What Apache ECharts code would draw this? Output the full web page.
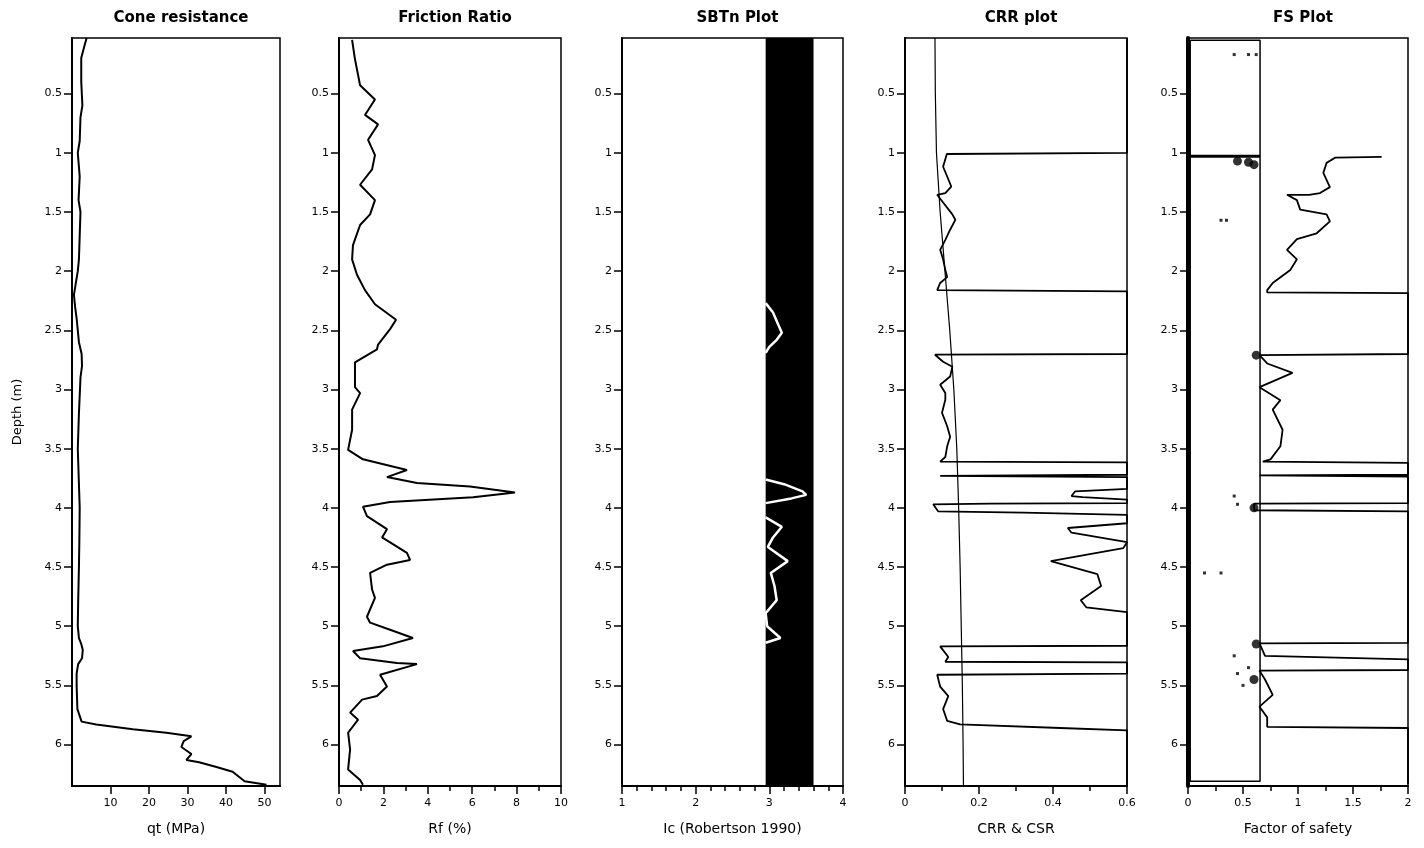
<!DOCTYPE html>
<html><head><meta charset="utf-8">
<script src="https://cdn.jsdelivr.net/npm/echarts@6/dist/echarts.min.js"></script>
<style>html,body{margin:0;padding:0;background:#fff}#c{width:1424px;height:848px}</style>
</head><body><div id="c"></div>
<script>
// ---------- DATA ----------
const panelTitles = ['Cone resistance','Friction Ratio','SBTn Plot','CRR plot','FS Plot'];
const xAxisNames = ['qt (MPa)','Rf (%)','Ic (Robertson 1990)','CRR & CSR','Factor of safety'];
const depthTicks = [0.5,1,1.5,2,2.5,3,3.5,4,4.5,5,5.5,6];
const depthRange = [0.03, 6.35];
const xRanges = [[0,54,10],[0,10,2],[1,4,1],[0,0.6,0.2],[0,2,0.5]];

// [depth, qt]
const qtProfile = [[0.03,3.8],[0.1,3.2],[0.2,2.4],[0.4,2.4],[0.6,2.7],[0.7,2.2],[0.9,2.0],[1.0,1.5],[1.2,2.0],[1.4,1.7],[1.5,2.2],[1.7,2.0],[1.9,1.8],[2.0,1.5],[2.1,1.0],[2.2,0.5],[2.3,0.8],[2.4,1.2],[2.6,1.8],[2.7,2.5],[2.8,2.6],[2.9,2.2],[3.2,1.8],[3.5,1.5],[3.8,1.8],[4.0,2.0],[4.3,1.9],[4.5,1.8],[4.8,1.6],[5.0,1.5],[5.1,1.8],[5.15,2.4],[5.2,2.8],[5.27,2.6],[5.32,1.6],[5.4,1.2],[5.5,1.2],[5.7,1.4],[5.806,2.5],[5.83,6.3],[5.87,15.8],[5.90,24.5],[5.93,31],[5.97,29],[6.02,28.4],[6.08,31],[6.13,29.7],[6.15,33],[6.19,37.5],[6.23,41.7],[6.31,44.8],[6.34,50.5]];

// [depth, Rf]
const rfProfile = [[0.045,0.59],[0.21,0.72],[0.43,0.95],[0.55,1.62],[0.68,1.17],[0.76,1.76],[0.89,1.31],[1.02,1.62],[1.14,1.49],[1.27,0.95],[1.40,1.62],[1.52,1.4],[1.61,0.95],[1.78,0.63],[1.90,0.59],[2.03,0.81],[2.16,1.17],[2.28,1.62],[2.41,2.57],[2.49,2.3],[2.62,1.76],[2.66,1.71],[2.77,0.72],[2.98,0.72],[3.03,0.95],[3.17,0.59],[3.34,0.59],[3.51,0.41],[3.59,1.08],[3.68,3.06],[3.74,2.16],[3.79,3.51],[3.82,5.9],[3.87,7.93],[3.91,6.04],[3.95,2.3],[3.99,1.08],[4.07,1.26],[4.18,2.16],[4.25,1.94],[4.38,3.06],[4.44,3.2],[4.48,2.16],[4.55,1.4],[4.69,1.49],[4.76,1.62],[4.92,1.26],[4.97,1.4],[5.03,2.3],[5.10,3.33],[5.17,1.98],[5.21,0.63],[5.27,0.95],[5.31,2.61],[5.32,3.51],[5.41,1.85],[5.51,2.16],[5.59,1.71],[5.62,1.04],[5.73,0.5],[5.79,0.86],[5.90,0.41],[6.04,0.5],[6.21,0.41],[6.30,0.95],[6.34,1.08]];

// Ic clay band (Robertson zone) and Ic profile segments [depth, Ic]
const icClayBand = [2.95, 3.6];
const icSegments = [
  [[2.27,2.95],[2.35,3.05],[2.45,3.12],[2.52,3.17],[2.58,3.1],[2.64,3.0],[2.69,2.95]],
  [[3.76,2.95],[3.80,3.2],[3.86,3.45],[3.89,3.5],[3.92,3.3],[3.96,2.95]],
  [[4.08,2.95],[4.16,3.17],[4.25,3.05],[4.33,2.98],[4.45,3.25],[4.55,3.02],[4.66,3.07],[4.78,3.1],[4.89,2.95],[5.0,2.97],[5.1,3.15],[5.14,2.95]]
];

// [depth, CRR] (values beyond 0.6 drawn at 0.6)
const crrProfile = [[0.03,0.6],[1.0,0.6],[1.01,0.113],[1.118,0.103],[1.20,0.114],[1.285,0.125],[1.34,0.109],[1.355,0.087],[1.42,0.103],[1.52,0.128],[1.566,0.136],[1.65,0.122],[1.735,0.109],[1.82,0.095],[1.90,0.103],[1.99,0.109],[2.05,0.114],[2.10,0.095],[2.16,0.087],[2.17,0.6],[2.70,0.6],[2.706,0.081],[2.765,0.103],[2.807,0.128],[2.89,0.122],[2.96,0.095],[3.03,0.109],[3.086,0.109],[3.196,0.100],[3.31,0.114],[3.40,0.122],[3.48,0.114],[3.57,0.109],[3.61,0.095],[3.615,0.6],[3.72,0.6],[3.73,0.095],[3.74,0.6],[3.84,0.6],[3.86,0.46],[3.90,0.45],[3.91,0.48],[3.93,0.6],[3.96,0.6],[3.965,0.23],[3.97,0.076],[4.03,0.09],[4.04,0.32],[4.06,0.6],[4.13,0.6],[4.17,0.44],[4.21,0.45],[4.29,0.6],[4.34,0.59],[4.45,0.394],[4.56,0.52],[4.66,0.53],[4.78,0.475],[4.84,0.49],[4.88,0.6],[5.165,0.6],[5.17,0.095],[5.26,0.117],[5.30,0.109],[5.305,0.6],[5.40,0.6],[5.41,0.087],[5.51,0.095],[5.59,0.117],[5.70,0.103],[5.80,0.114],[5.83,0.149],[5.86,0.42],[5.88,0.6],[6.35,0.6]];

// [depth, CSR]
const csrProfile = [[0.03,0.081],[0.5,0.082],[1.0,0.085],[1.5,0.095],[2.0,0.108],[2.5,0.121],[3.0,0.132],[3.5,0.14],[4.0,0.145],[4.5,0.149],[5.0,0.152],[5.5,0.155],[6.0,0.157],[6.35,0.158]];

// [depth, FS] (values beyond 2 drawn at 2)
const fsProfile = [[1.035,1.76],[1.04,1.34],[1.085,1.26],[1.17,1.23],[1.29,1.29],[1.34,1.2],[1.355,1.1],[1.355,0.9],[1.40,0.99],[1.48,1.02],[1.52,1.26],[1.58,1.29],[1.68,1.17],[1.73,0.99],[1.82,0.9],[1.90,0.99],[1.99,0.93],[2.10,0.77],[2.16,0.72],[2.18,0.72],[2.185,2.0],[2.70,2.0],[2.71,0.65],[2.78,0.72],[2.86,0.95],[2.94,0.75],[2.98,0.65],[3.09,0.84],[3.17,0.77],[3.34,0.86],[3.48,0.84],[3.59,0.75],[3.61,0.68],[3.62,2.0],[3.72,2.0],[3.725,0.65],[3.735,2.0],[3.96,2.0],[3.965,0.6],[4.02,0.6],[4.03,2.0],[5.14,2.0],[5.145,0.65],[5.25,0.7],[5.28,2.0],[5.37,2.0],[5.375,0.65],[5.45,0.7],[5.58,0.77],[5.68,0.65],[5.77,0.72],[5.85,0.72],[5.86,2.0],[6.33,2.0]];
// reference frame drawn inside FS panel [depth, FS]
const fsFrame = [[0.05,0.02],[0.05,0.655],[6.31,0.655],[6.31,0.02],[0.05,0.02]];
const fsFrameCut = [[1.03,0.02],[1.03,0.655]];
const fsBlobs = [[2.71,0.62],[4.0,0.6],[1.08,0.55],[1.1,0.6],[1.07,0.45],[5.15,0.62],[5.45,0.6]];
const fsDots = [[0.17,0.42],[0.17,0.55],[0.17,0.62],[1.57,0.3],[1.57,0.35],[4.55,0.15],[4.55,0.3],[3.9,0.42],[3.97,0.45],[5.25,0.42],[5.4,0.45],[5.5,0.5],[5.35,0.55]];

// ---------- LAYOUT ----------
const panels = [
  {left:72, width:208},
  {left:339, width:222},
  {left:622, width:221},
  {left:905, width:222},
  {left:1188, width:220}
];
const TOP = 38, HEIGHT = 748;
const FONT = 'DejaVu Sans';
const minorSplit = [0,2,5,2,2];

const grid = panels.map(p => ({left:p.left, top:TOP, width:p.width, height:HEIGHT, show:true, borderColor:'#000', borderWidth:1.5, backgroundColor:'transparent'}));
const title = panels.map((p,i) => ({
  text: panelTitles[i], left: p.left + p.width/2, top: 6, textAlign: 'center',
  textStyle: {fontFamily: FONT, fontSize: 15, fontWeight: 'bold', color: '#000'}
}));
const fmt = v => String(Math.round(v*100)/100);
const xAxis = panels.map((p,i) => ({
  gridIndex: i, type: 'value', min: xRanges[i][0], max: xRanges[i][1], interval: xRanges[i][2],
  name: xAxisNames[i], nameLocation: 'middle', nameGap: 36,
  nameTextStyle: {fontFamily: FONT, fontSize: 14, color: '#000'},
  axisLine: {show: true, onZero: false, lineStyle: {color: '#000', width: 2}},
  axisTick: {show: true, inside: false, length: 8, lineStyle: {color: '#000', width: 1.5}},
  minorTick: {show: minorSplit[i] > 0, splitNumber: minorSplit[i] || 5, length: 5, lineStyle: {color: '#000', width: 1.5}},
  axisLabel: {fontFamily: FONT, fontSize: 11, color: '#000', margin: 12, showMinLabel: i !== 0, showMaxLabel: i !== 0, formatter: fmt},
  splitLine: {show: false}, minorSplitLine: {show: false}
}));
const yAxis = panels.map((p,i) => ({
  gridIndex: i, type: 'value', inverse: true, min: depthRange[0], max: depthRange[1],
  name: i === 0 ? 'Depth (m)' : '', nameLocation: 'middle', nameGap: 48, nameRotate: 90,
  nameTextStyle: {fontFamily: FONT, fontSize: 13, color: '#000'},
  axisLine: {show: true, onZero: false, lineStyle: {color: '#000', width: i === 4 ? 4 : 2}},
  axisTick: {show: true, length: 8, customValues: depthTicks, lineStyle: {color: '#000', width: 1.5}},
  axisLabel: {fontFamily: FONT, fontSize: 11, color: '#000', margin: 10, customValues: depthTicks, formatter: fmt},
  splitLine: {show: false}
}));

const toXY = arr => arr.map(d => [d[1], d[0]]);
const lineS = (idx, data, width, color, z) => ({
  type: 'line', xAxisIndex: idx, yAxisIndex: idx, data: toXY(data), showSymbol: false, symbol: 'none',
  lineStyle: {color: color || '#000', width: width}, z: z || 3, animation: false, clip: true
});

const series = [];
series.push(lineS(0, qtProfile, 2));
series.push(lineS(1, rfProfile, 2));
// clay band
series.push({
  type: 'line', xAxisIndex: 2, yAxisIndex: 2, data: [], z: 1, animation: false,
  markArea: {silent: true, itemStyle: {color: '#000', opacity: 1}, data: [[{xAxis: icClayBand[0]}, {xAxis: icClayBand[1]}]]}
});
icSegments.forEach(seg => series.push(lineS(2, seg, 2.5, '#fff', 5)));
series.push(lineS(3, csrProfile, 1.2));
series.push(lineS(3, crrProfile, 1.8));
series.push(lineS(4, fsFrame, 1.5));
series.push(lineS(4, fsFrameCut, 3));
series.push(lineS(4, fsProfile, 1.8));
series.push({type:'scatter', xAxisIndex:4, yAxisIndex:4, data: toXY(fsBlobs), symbolSize: 9, itemStyle:{color:'#000'}, z:4, animation:false});
series.push({type:'scatter', xAxisIndex:4, yAxisIndex:4, data: toXY(fsDots), symbolSize: 3, symbol:'rect', itemStyle:{color:'#000'}, z:4, animation:false});

const chart = echarts.init(document.getElementById('c'), null, {renderer: 'canvas'});
chart.setOption({backgroundColor: '#fff', animation: false, title, grid, xAxis, yAxis, series});
</script>
</body></html>
